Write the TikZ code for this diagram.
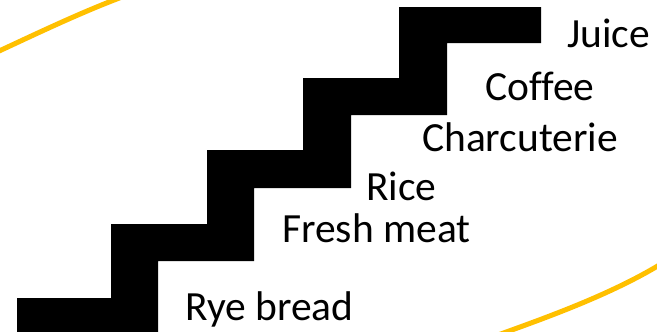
\documentclass[tikz,border=0pt]{standalone}
\usepackage{fontspec}
\setmainfont{Carlito}[Ligatures=NoCommon]
\definecolor{gold}{HTML}{FFC000}
\begin{document}
\begin{tikzpicture}[x=1pt,y=-1pt,
  lbl/.style={anchor=base west,inner sep=0pt,font=\fontsize{41.5}{48}\selectfont,text=black},
  arcline/.style={draw=gold,line width=5pt}]
\useasboundingbox (0,0) rectangle (657,332);
\fill[white] (0,0) rectangle (657,332);
% yellow arcs
\draw[arcline] (-3,52) .. controls (40,32) and (82,12) .. (122,-3);
\draw[arcline] (498,335) .. controls (545,318) and (610,295) .. (661,264);
% staircase
\fill[black] (17,334) -- (17,298) -- (111,298) -- (111,224) -- (207,224) -- (207,150)
  -- (303,150) -- (303,78) -- (399,78) -- (399,7) -- (541,7) -- (541,43) -- (447,43)
  -- (447,115) -- (351,115) -- (351,188) -- (254,188) -- (254,261) -- (158,261)
  -- (158,334) -- cycle;
% labels
\node[lbl] (juice) at (567,47) {Juice};
\node[lbl] (coffee) at (485,100) {Coffee};
\node[lbl] (charc) at (422,151) {Charcuterie};
\node[lbl] (rice) at (366,200) {Rice};
\node[lbl] (meat) at (282,242) {Fresh meat};
\node[lbl] (rye) at (185,320) {Rye bread};
\end{tikzpicture}
\end{document}
